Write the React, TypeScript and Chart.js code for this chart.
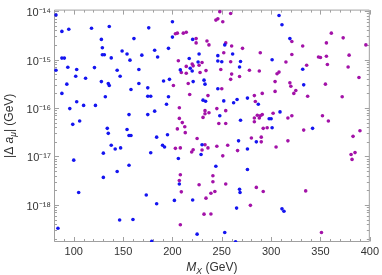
import { useEffect, useRef } from 'react';
import { Chart, registerables } from 'chart.js';

Chart.register(...registerables);

// M_X (GeV) and |Δa_μ| (GeV) for the two point families
const blueMass = [
  82, 88, 95, 118, 136, 176, 128, 161, 129, 149, 154, 182, 129, 131, 138, 157, 169, 185, 88, 90.5,
  82, 94, 103, 121, 144, 166, 102, 112, 147, 93, 128, 135, 136, 166, 158, 175, 88, 132, 175, 178,
  103, 110, 122, 96, 182, 156, 175, 106, 99, 134, 154, 135, 156, 158, 184, 138, 142, 147.5, 130, 178,
  100, 156, 144, 130, 105, 173.5, 184, 146.5, 160, 84, 179, 200, 200, 220.5, 253, 196, 227, 246, 261, 217,
  226, 246, 250, 269, 218, 208, 220, 268, 191, 197, 232, 221, 233, 246, 196, 276, 265.5, 231, 233.6, 252,
  262, 194, 287, 248, 269, 195, 267, 285, 190, 192, 230, 229, 276, 206, 244, 276, 207, 268, 268.5, 202,
  220.5, 265, 225, 253, 264, 308, 311, 319, 301, 332, 333, 309, 298, 300, 301, 342, 311, 313,
];
const blueDelta = [
  8.3e-15, 3.8e-15, 4.2e-15, 4.4e-15, 4.8e-15, 4.5e-15, 2.6e-15, 2.7e-15, 1.75e-15, 1.5e-15, 1.3e-15, 1.55e-15, 1.25e-15, 1.25e-15, 1.08e-15, 9.7e-16, 1.23e-15, 1.13e-15, 1.07e-15, 1.07e-15,
  6.0e-16, 6.9e-16, 6.2e-16, 6.8e-16, 6.0e-16, 6.2e-16, 4.5e-16, 4.1e-16, 4.5e-16, 3.1e-16, 3.5e-16, 3.2e-16, 2.9e-16, 3.2e-16, 2.4e-16, 2.6e-16, 2.0e-16, 1.7e-16, 1.75e-16, 1.75e-16,
  1.34e-16, 1.13e-16, 1.13e-16, 9.7e-17, 8.6e-17, 7.3e-17, 7.3e-17, 5.4e-17, 4.6e-17, 3.8e-17, 3.6e-17, 3.0e-17, 2.7e-17, 2.7e-17, 2.5e-17, 1.7e-17, 1.43e-17, 1.5e-17, 1.17e-17, 1.19e-17,
  8.4e-18, 6.6e-18, 4.9e-18, 3.7e-18, 1.8e-18, 1.6e-18, 1.06e-18, 4.9e-19, 5.0e-19, 3.3e-19, 1.77e-19, 6.0e-15, 2.9e-15, 2.6e-15, 2.0e-15, 1.7e-15, 1.3e-15, 1.2e-15, 1.3e-15, 1.05e-15,
  8.9e-16, 9.3e-16, 9.0e-16, 9.1e-16, 6.6e-16, 6.1e-16, 5.8e-16, 7.0e-16, 3.6e-16, 3.9e-16, 3.75e-16, 3.5e-16, 3.1e-16, 2.5e-16, 1.7e-16, 1.6e-16, 1.5e-16, 1.45e-16, 1.38e-16, 1.4e-16,
  1.28e-16, 1.19e-16, 1.19e-16, 6.9e-17, 5.6e-17, 2.8e-17, 2.1e-17, 2.0e-17, 1.7e-17, 1.57e-17, 1.75e-17, 1.1e-17, 1.43e-17, 9.1e-18, 6.3e-18, 5.4e-18, 2.7e-18, 2.1e-18, 1.8e-18, 1.24e-18,
  1.26e-18, 8.6e-19, 2.5e-19, 2.7e-19, 1.74e-19, 8.1e-15, 5.2e-15, 2.7e-15, 9.9e-16, 6.3e-16, 3.0e-16, 8.3e-17, 6.0e-17, 6.0e-17, 3.9e-17, 3.8e-17, 8.3e-19, 7.4e-19,
];
const purpleMass = [
  248, 259, 244, 246, 251, 203, 205, 211, 214, 224, 224, 235, 237, 254, 260, 271, 252, 289, 206, 230,
  259, 220, 221, 227, 214, 209, 234, 249, 278, 288, 214, 228, 260, 268, 259, 216, 201, 250, 291, 217.5,
  236, 283, 284, 207, 245, 233, 254, 237, 233, 231, 286, 289, 291, 207, 283, 288, 210, 247, 254, 283,
  205, 212.5, 213, 225, 292, 280, 290, 290, 203, 208, 233, 236, 221, 219.5, 230, 245, 256, 266, 251, 208,
  241, 207, 241, 227, 254, 285, 292, 209, 239, 243, 234, 279, 232, 239, 208, 361, 373, 321, 356, 332,
  396, 321, 348, 350, 356, 379, 315, 336, 357, 378, 308, 306, 389, 304, 319, 320, 355, 325, 304, 323,
  337, 372, 302, 321, 352, 317, 358, 296, 333, 390, 383, 317, 305, 385, 381, 382, 335, 351,
];
const purpleDelta = [
  9.7e-15, 8.9e-15, 6.5e-15, 6.9e-15, 6.0e-15, 3.4e-15, 3.5e-15, 3.5e-15, 3.65e-15, 2.7e-15, 2.2e-15, 2.4e-15, 2.0e-15, 2.2e-15, 1.9e-15, 1.7e-15, 1.38e-15, 1.38e-15, 9.4e-16, 8.7e-16,
  9.0e-16, 8.1e-16, 7.4e-16, 7.6e-16, 7.2e-16, 5.4e-16, 5.9e-16, 6.2e-16, 6.0e-16, 5.8e-16, 5.2e-16, 5.4e-16, 5.0e-16, 4.45e-16, 3.9e-16, 3.2e-16, 2.9e-16, 2.5e-16, 2.0e-16, 1.9e-16,
  1.8e-16, 1.8e-16, 1.36e-16, 1.01e-16, 9.7e-17, 8.8e-17, 8.8e-17, 8.0e-17, 7.6e-17, 6.4e-17, 7.1e-17, 6.9e-17, 7.3e-17, 6.1e-17, 6.2e-17, 6.2e-17, 5.0e-17, 4.8e-17, 4.8e-17, 5.2e-17,
  3.7e-17, 4.1e-17, 3.1e-17, 2.35e-17, 3.8e-17, 2.4e-17, 2.5e-17, 2.0e-17, 1.47e-17, 1.5e-17, 1.75e-17, 1.5e-17, 1.38e-17, 1.24e-17, 1.36e-17, 1.62e-17, 1.7e-17, 1.32e-17, 1.03e-17, 4.2e-18,
  4.0e-18, 3.2e-18, 3.0e-18, 2.6e-18, 2.7e-18, 2.3e-18, 1.9e-18, 1.86e-18, 1.74e-18, 1.9e-18, 1.38e-18, 9.8e-19, 6.45e-19, 6.5e-19, 3.9e-19, 3.5e-15, 2.8e-15, 2.35e-15, 2.2e-15, 1.9e-15,
  2.0e-15, 1.27e-15, 1.13e-15, 1.1e-15, 1.17e-15, 1.23e-15, 8.9e-16, 7.6e-16, 7.9e-16, 7.0e-16, 5.5e-16, 5.1e-16, 4.25e-16, 3.5e-16, 3.3e-16, 2.8e-16, 3.1e-16, 2.3e-16, 2.2e-16, 2.0e-16,
  1.75e-16, 1.7e-16, 7.8e-17, 6.9e-17, 6.9e-17, 6.2e-17, 5.4e-17, 3.9e-17, 3.5e-17, 3.4e-17, 2.6e-17, 2.1e-17, 1.57e-17, 1.2e-17, 1.1e-17, 8.7e-18, 1.95e-18, 2.7e-19,
];

const xTicks = [100, 150, 200, 250, 300, 350, 400];
const xTickLabels = ['100', '150', '200', '250', '300', '350', '400'];
const yTicks = [1e-18, 1e-17, 1e-16, 1e-15, 1e-14];
const yTickLabels = ['10⁻¹⁸', '10⁻¹⁷', '10⁻¹⁶', '10⁻¹⁵', '10⁻¹⁴'];
const xRange = [80, 400];
const yRange = [1.72e-19, 1.07e-14];

const FONT = "'Liberation Sans', Arial, sans-serif";
const FRAME = '#a0a0a0';
const LABEL = '#333333';
const BLUE = '#1414f0';
const PURPLE = '#a312a8';

type Piece = { t: string; italic?: boolean; sub?: boolean };

function drawPieces(ctx: CanvasRenderingContext2D, pieces: Piece[], cx: number, base: number, size: number) {
  const fontOf = (p: Piece) => `${p.italic ? 'italic ' : ''}${p.sub ? size * 0.72 : size}px ${FONT}`;
  let total = 0;
  const widths = pieces.map((p) => {
    ctx.font = fontOf(p);
    const w = ctx.measureText(p.t).width;
    total += w;
    return w;
  });
  let x = cx - total / 2;
  ctx.textBaseline = 'alphabetic';
  ctx.textAlign = 'left';
  pieces.forEach((p, i) => {
    ctx.font = fontOf(p);
    ctx.fillText(p.t, x, base + (p.sub ? size * 0.25 : 0));
    x += widths[i];
  });
}

const decorPlugin = {
  id: 'decor',
  beforeDatasetsDraw(chart: any) {
    const { ctx, chartArea: a, scales } = chart;
    const xs = scales.x;
    const ys = scales.y;
    ctx.save();
    ctx.strokeStyle = FRAME;
    ctx.lineWidth = 1;
    const L = a.left + 0.5, R = a.right - 0.5, T = a.top + 0.5, B = a.bottom - 0.5;
    ctx.beginPath();
    ctx.moveTo(L, T); ctx.lineTo(R, T); ctx.lineTo(R, B); ctx.lineTo(L, B); ctx.closePath();
    ctx.stroke();
    ctx.beginPath();
    for (let v = xRange[0]; v <= xRange[1]; v += 10) {
      const px = Math.round(xs.getPixelForValue(v)) + 0.5;
      const len = v % 50 === 0 ? 4.5 : 2.5;
      ctx.moveTo(px, B); ctx.lineTo(px, B - len);
      ctx.moveTo(px, T); ctx.lineTo(px, T + len);
    }
    for (let e = -19; e <= -14; e++) {
      for (let k = 1; k <= 9; k++) {
        const v = k * Math.pow(10, e);
        if (v < yRange[0] || v > yRange[1]) continue;
        const py = Math.round(ys.getPixelForValue(v)) + 0.5;
        const len = k === 1 ? 4.5 : 2.5;
        ctx.moveTo(L, py); ctx.lineTo(L + len, py);
        ctx.moveTo(R, py); ctx.lineTo(R - len, py);
      }
    }
    ctx.stroke();
    ctx.restore();
  },
  afterDraw(chart: any) {
    const { ctx, chartArea: a } = chart;
    ctx.save();
    ctx.fillStyle = LABEL;
    drawPieces(ctx, [{ t: 'M', italic: true }, { t: 'X', italic: true, sub: true }, { t: ' (GeV)' }], (a.left + a.right) / 2, 270.5, 12);
    ctx.translate(12.5, (a.top + a.bottom) / 2);
    ctx.rotate(-Math.PI / 2);
    drawPieces(ctx, [{ t: '|Δ ' }, { t: 'a', italic: true }, { t: 'μ', italic: true, sub: true }, { t: '| (GeV)' }], 0, 0, 12);
    ctx.restore();
  },
};

export default function App() {
  const ref = useRef<HTMLCanvasElement | null>(null);
  useEffect(() => {
    if (!ref.current) return;
    const chart = new Chart(ref.current, {
      type: 'scatter',
      data: {
        datasets: [
          {
            label: 'blue',
            data: blueMass.map((x, i) => ({ x, y: blueDelta[i] })),
            backgroundColor: BLUE,
            borderWidth: 0,
            pointRadius: 1.8,
          },
          {
            label: 'purple',
            data: purpleMass.map((x, i) => ({ x, y: purpleDelta[i] })),
            backgroundColor: PURPLE,
            borderWidth: 0,
            pointRadius: 1.8,
          },
        ],
      },
      options: {
        animation: false,
        responsive: true,
        maintainAspectRatio: false,
        layout: { padding: { top: 6, right: 11, left: 0, bottom: 0 } },
        plugins: { legend: { display: false }, tooltip: { enabled: false } },
        scales: {
          x: {
            type: 'linear',
            min: xRange[0],
            max: xRange[1],
            grid: { display: false, drawTicks: false },
            border: { display: false },
            afterFit: (s: any) => { s.height = 33; },
            afterBuildTicks: (s: any) => { s.ticks = xTicks.map((value) => ({ value })); },
            ticks: {
              autoSkip: false,
              maxRotation: 0,
              padding: 3,
              color: LABEL,
              font: { family: FONT, size: 11 },
              callback: (_v: any, i: number) => xTickLabels[i],
            },
          },
          y: {
            type: 'logarithmic',
            min: yRange[0],
            max: yRange[1],
            grid: { display: false, drawTicks: false },
            border: { display: false },
            afterFit: (s: any) => { s.width = 54; },
            afterBuildTicks: (s: any) => { s.ticks = yTicks.map((value) => ({ value })); },
            ticks: {
              autoSkip: false,
              padding: 3,
              labelOffset: 2,
              color: LABEL,
              font: { family: FONT, size: 11 },
              callback: (_v: any, i: number) => yTickLabels[i],
            },
          },
        },
      },
      plugins: [decorPlugin],
    } as any);
    return () => chart.destroy();
  }, []);
  return (
    <div style={{ position: 'fixed', left: 0, top: 0, width: 382, height: 275, background: '#fff' }}>
      <canvas ref={ref} />
    </div>
  );
}
